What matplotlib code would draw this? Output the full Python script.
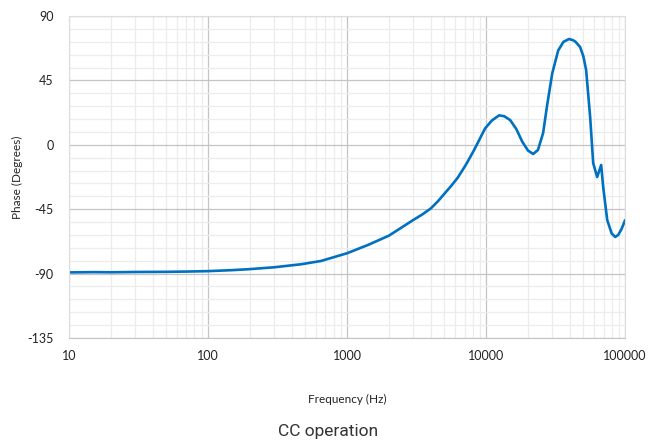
import matplotlib.pyplot as plt
import numpy as np
from matplotlib.ticker import FixedLocator, NullFormatter

plt.rcParams["font.family"] = ["Lato", "DejaVu Sans"]
plt.rcParams["axes.unicode_minus"] = False

# Phase response
freq_hz = [10, 15, 20, 30, 50, 70, 100, 150, 200, 300, 467, 650, 1000, 1415,
           2000, 2450, 3000, 3500, 4000, 4500, 4980, 5600, 6250, 7200, 8200,
           9840, 11000, 12400, 13500, 14900, 16500, 18200, 20000, 21800,
           23600, 25700, 27500, 29900, 33000, 36000, 39500, 42500, 44000,
           47400, 50000, 52400, 56000, 58900, 62900, 67200, 69500, 74300,
           80000, 84800, 89100, 94000, 100000]
phase_deg = [-89.2, -89.0, -89.1, -88.9, -88.8, -88.6, -88.3, -87.6, -86.9,
             -85.6, -83.5, -81.2, -75.8, -70.0, -63.5, -58.0, -52.5, -48.5,
             -44.5, -39.5, -34.5, -28.8, -23.0, -13.5, -3.6, 11.5, 17.0,
             20.6, 20.0, 17.3, 11.0, 2.2, -4.0, -6.4, -3.6, 8.2, 28.0, 50.0,
             66.0, 72.0, 74.0, 73.0, 72.0, 68.4, 62.0, 52.3, 19.4, -12.8,
             -22.5, -14.1, -29.5, -52.6, -62.0, -64.4, -63.0, -59.0, -52.6]

y_ticks = [-135, -90, -45, 0, 45, 90]
x_ticks = [10, 100, 1000, 10000, 100000]
x_labels = ["10", "100", "1000", "10000", "100000"]

fig = plt.figure(figsize=(6.56, 4.47), dpi=100)
ax = fig.add_axes([0.105, 0.244, 0.848, 0.72])

ax.plot(freq_hz, phase_deg, color="#0070C0", linewidth=1.9,
        solid_joinstyle="round", solid_capstyle="round")

ax.set_xscale("log")
ax.set_xlim(10, 100000)
ax.set_ylim(-135, 90)

ax.set_xticks(x_ticks)
ax.set_xticklabels(x_labels)
ax.xaxis.set_minor_locator(FixedLocator(
    [m * 10 ** e for e in range(1, 5) for m in range(2, 10)]))
ax.xaxis.set_minor_formatter(NullFormatter())
ax.set_yticks(y_ticks)
ax.yaxis.set_minor_locator(FixedLocator(np.arange(-135, 91, 9)))

ax.grid(which="major", color="#c4c4c4", linewidth=0.9)
ax.grid(which="minor", color="#ececec", linewidth=0.9)
ax.set_axisbelow(True)

ax.tick_params(which="both", length=0)
ax.tick_params(axis="x", pad=9, labelsize=9, colors="#222222")
ax.tick_params(axis="y", pad=11, labelsize=9, colors="#222222")

for side in ["left", "top", "right"]:
    ax.spines[side].set_color("#dddddd")
ax.spines["bottom"].set_color("#c4c4c4")

ax.set_ylabel("Phase (Degrees)", fontsize=8.5, color="#222222")
ax.yaxis.set_label_coords(-0.083, 0.5)
ax.set_xlabel("Frequency (Hz)", fontsize=8.5, color="#222222")
ax.xaxis.set_label_coords(0.5, -0.175)

fig.text(0.50, 0.034, "CC operation", ha="center", va="center",
         fontsize=12.5, family="Roboto", color="#333333")

fig.savefig("out.png", dpi=100)
